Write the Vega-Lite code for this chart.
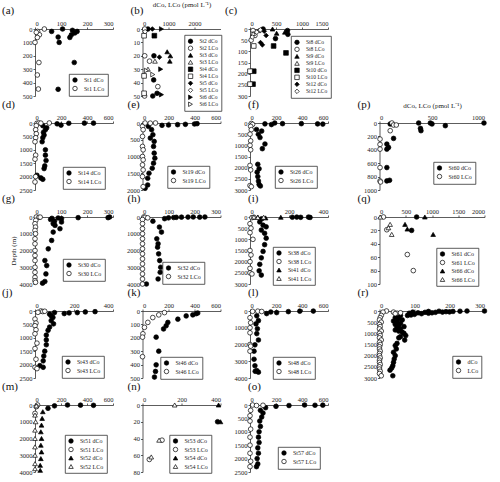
{
"$schema":"https://vega.github.io/schema/vega-lite/v6.json",
"padding":{"left":2,"top":0,"right":0,"bottom":0},
"columns":4,
"spacing":{"row":27,"column":29.5},
"bounds":"flush",
"resolve":{"scale":{"shape":"independent","fill":"independent","stroke":"independent","x":"independent","y":"independent"},"legend":{"shape":"independent","fill":"independent","stroke":"independent"}},
"config":{"view":{"stroke":null},"font":"Liberation Serif",
"axis":{"grid":false,"format":"d","domainColor":"#333","tickColor":"#333","labelFontSize":6.5,"labelColor":"#222","tickSize":2,"labelPadding":1,"titleFontWeight":"normal","titleFontSize":7,"titleColor":"#222","domainWidth":0.8,"tickWidth":0.8,"labelFont":"Liberation Serif","titleFont":"Liberation Serif"},
"legend":{"orient":"none","strokeColor":"#333","strokeWidth":0.8,"padding":3,"labelFontSize":6,"labelFont":"Liberation Serif","labelColor":"#222","symbolSize":20,"rowPadding":0.5,"symbolStrokeWidth":0.7,"labelOffset":6,"fillColor":"white"},
"title":{"fontSize":11,"fontWeight":"normal","anchor":"start","font":"Liberation Serif","color":"#111","frame":"group"}},
"data":{"values":[
{"p":"a","s":"St1 dCo","x":64,"y":18},{"p":"a","s":"St1 dCo","x":106,"y":0},{"p":"a","s":"St1 dCo","x":144,"y":10},{"p":"a","s":"St1 dCo","x":153,"y":30},{"p":"a","s":"St1 dCo","x":140,"y":43},{"p":"a","s":"St1 dCo","x":134,"y":63},{"p":"a","s":"St1 dCo","x":89,"y":60},{"p":"a","s":"St1 dCo","x":93,"y":100},{"p":"a","s":"St1 dCo","x":162,"y":18},{"p":"a","s":"St1 dCo","x":151,"y":250},{"p":"a","s":"St1 dCo","x":89,"y":450},
{"p":"a","s":"St1 LCo","x":36,"y":0},{"p":"a","s":"St1 LCo","x":10,"y":18},{"p":"a","s":"St1 LCo","x":17,"y":43},{"p":"a","s":"St1 LCo","x":9,"y":63},{"p":"a","s":"St1 LCo","x":0,"y":100},{"p":"a","s":"St1 LCo","x":15,"y":250},{"p":"a","s":"St1 LCo","x":9,"y":343},{"p":"a","s":"St1 LCo","x":13,"y":448},{"p":"a","s":"St1 LCo","x":5,"y":25},
{"p":"b","s":"St2 dCo","x":210,"y":0},{"p":"b","s":"St2 dCo","x":440,"y":20},{"p":"b","s":"St2 dCo","x":430,"y":38},{"p":"b","s":"St2 dCo","x":395,"y":50},{"p":"b","s":"St2 dCo","x":560,"y":48},
{"p":"b","s":"St2 LCo","x":85,"y":0},{"p":"b","s":"St2 LCo","x":85,"y":20},{"p":"b","s":"St2 LCo","x":270,"y":24},{"p":"b","s":"St2 LCo","x":590,"y":43},{"p":"b","s":"St2 LCo","x":80,"y":50},
{"p":"b","s":"St3 dCo","x":950,"y":17},{"p":"b","s":"St3 dCo","x":1070,"y":20},{"p":"b","s":"St3 dCo","x":1050,"y":24},
{"p":"b","s":"St3 LCo","x":480,"y":24},{"p":"b","s":"St3 LCo","x":210,"y":30},
{"p":"b","s":"St4 dCo","x":456,"y":5},
{"p":"b","s":"St4 LCo","x":60,"y":5},{"p":"b","s":"St4 LCo","x":60,"y":35},{"p":"b","s":"St4 LCo","x":60,"y":48},
{"p":"b","s":"St5 dCo","x":380,"y":0},{"p":"b","s":"St5 dCo","x":650,"y":21},
{"p":"b","s":"St5 LCo","x":100,"y":2},
{"p":"b","s":"St6 dCo","x":730,"y":0},{"p":"b","s":"St6 dCo","x":700,"y":30},{"p":"b","s":"St6 dCo","x":730,"y":49},
{"p":"b","s":"St6 LCo","x":395,"y":34},{"p":"b","s":"St6 LCo","x":150,"y":31},
{"p":"c","s":"St8 dCo","x":252,"y":0},{"p":"c","s":"St8 dCo","x":721,"y":7},{"p":"c","s":"St8 dCo","x":728,"y":24},{"p":"c","s":"St8 dCo","x":490,"y":43},
{"p":"c","s":"St8 LCo","x":58,"y":7},{"p":"c","s":"St8 LCo","x":94,"y":29},{"p":"c","s":"St8 LCo","x":22,"y":50},
{"p":"c","s":"St9 dCo","x":512,"y":19},{"p":"c","s":"St9 dCo","x":670,"y":14},{"p":"c","s":"St9 dCo","x":433,"y":0},
{"p":"c","s":"St9 LCo","x":166,"y":7},{"p":"c","s":"St9 LCo","x":60,"y":20},
{"p":"c","s":"St10 dCo","x":454,"y":76},{"p":"c","s":"St10 dCo","x":692,"y":107},{"p":"c","s":"St10 dCo","x":72,"y":189},{"p":"c","s":"St10 dCo","x":58,"y":247},
{"p":"c","s":"St10 LCo","x":72,"y":76},{"p":"c","s":"St10 LCo","x":0,"y":189},{"p":"c","s":"St10 LCo","x":0,"y":247},
{"p":"c","s":"St12 dCo","x":202,"y":61},{"p":"c","s":"St12 dCo","x":238,"y":71},{"p":"c","s":"St12 dCo","x":310,"y":29},{"p":"c","s":"St12 dCo","x":274,"y":10},
{"p":"c","s":"St12 LCo","x":130,"y":14},{"p":"c","s":"St12 LCo","x":43,"y":36},{"p":"c","s":"St12 LCo","x":200,"y":4},
{"p":"d","s":"St14 dCo","x":60,"y":100},{"p":"d","s":"St14 dCo","x":90,"y":180},{"p":"d","s":"St14 dCo","x":80,"y":250},{"p":"d","s":"St14 dCo","x":65,"y":350},{"p":"d","s":"St14 dCo","x":70,"y":450},{"p":"d","s":"St14 dCo","x":60,"y":550},{"p":"d","s":"St14 dCo","x":55,"y":700},{"p":"d","s":"St14 dCo","x":80,"y":1000},{"p":"d","s":"St14 dCo","x":80,"y":1200},{"p":"d","s":"St14 dCo","x":85,"y":1400},{"p":"d","s":"St14 dCo","x":75,"y":1600},{"p":"d","s":"St14 dCo","x":70,"y":1700},{"p":"d","s":"St14 dCo","x":15,"y":1950},{"p":"d","s":"St14 dCo","x":45,"y":2050},{"p":"d","s":"St14 dCo","x":60,"y":2100},{"p":"d","s":"St14 dCo","x":170,"y":30},{"p":"d","s":"St14 dCo","x":200,"y":80},{"p":"d","s":"St14 dCo","x":260,"y":10},{"p":"d","s":"St14 dCo","x":380,"y":5},{"p":"d","s":"St14 dCo","x":450,"y":5},
{"p":"d","s":"St14 LCo","x":15,"y":10},{"p":"d","s":"St14 LCo","x":30,"y":0},{"p":"d","s":"St14 LCo","x":45,"y":5},{"p":"d","s":"St14 LCo","x":110,"y":0},{"p":"d","s":"St14 LCo","x":10,"y":100},{"p":"d","s":"St14 LCo","x":5,"y":250},{"p":"d","s":"St14 LCo","x":10,"y":400},{"p":"d","s":"St14 LCo","x":5,"y":550},{"p":"d","s":"St14 LCo","x":0,"y":700},{"p":"d","s":"St14 LCo","x":5,"y":1200},{"p":"d","s":"St14 LCo","x":0,"y":1350},{"p":"d","s":"St14 LCo","x":5,"y":2000},{"p":"d","s":"St14 LCo","x":0,"y":2200},
{"p":"e","s":"St19 dCo","x":150,"y":70},{"p":"e","s":"St19 dCo","x":200,"y":60},{"p":"e","s":"St19 dCo","x":270,"y":50},{"p":"e","s":"St19 dCo","x":330,"y":40},{"p":"e","s":"St19 dCo","x":400,"y":30},{"p":"e","s":"St19 dCo","x":420,"y":20},{"p":"e","s":"St19 dCo","x":45,"y":100},{"p":"e","s":"St19 dCo","x":70,"y":200},{"p":"e","s":"St19 dCo","x":80,"y":350},{"p":"e","s":"St19 dCo","x":60,"y":450},{"p":"e","s":"St19 dCo","x":90,"y":550},{"p":"e","s":"St19 dCo","x":85,"y":700},{"p":"e","s":"St19 dCo","x":90,"y":900},{"p":"e","s":"St19 dCo","x":95,"y":1050},{"p":"e","s":"St19 dCo","x":85,"y":1200},{"p":"e","s":"St19 dCo","x":75,"y":1350},{"p":"e","s":"St19 dCo","x":50,"y":1500},{"p":"e","s":"St19 dCo","x":40,"y":1650},{"p":"e","s":"St19 dCo","x":40,"y":1850},{"p":"e","s":"St19 dCo","x":20,"y":1950},
{"p":"e","s":"St19 LCo","x":0,"y":100},{"p":"e","s":"St19 LCo","x":5,"y":200},{"p":"e","s":"St19 LCo","x":0,"y":400},{"p":"e","s":"St19 LCo","x":0,"y":700},{"p":"e","s":"St19 LCo","x":5,"y":800},{"p":"e","s":"St19 LCo","x":0,"y":1000},{"p":"e","s":"St19 LCo","x":5,"y":1100},{"p":"e","s":"St19 LCo","x":0,"y":1250},{"p":"e","s":"St19 LCo","x":5,"y":1400},{"p":"e","s":"St19 LCo","x":0,"y":1600},{"p":"e","s":"St19 LCo","x":5,"y":1900},{"p":"e","s":"St19 LCo","x":20,"y":0},{"p":"e","s":"St19 LCo","x":100,"y":0},{"p":"e","s":"St19 LCo","x":60,"y":5},
{"p":"f","s":"St26 dCo","x":115,"y":40},{"p":"f","s":"St26 dCo","x":190,"y":0},{"p":"f","s":"St26 dCo","x":395,"y":30},{"p":"f","s":"St26 dCo","x":520,"y":40},{"p":"f","s":"St26 dCo","x":560,"y":50},{"p":"f","s":"St26 dCo","x":165,"y":70},{"p":"f","s":"St26 dCo","x":250,"y":30},{"p":"f","s":"St26 dCo","x":50,"y":290},{"p":"f","s":"St26 dCo","x":90,"y":360},{"p":"f","s":"St26 dCo","x":64,"y":505},{"p":"f","s":"St26 dCo","x":77,"y":650},{"p":"f","s":"St26 dCo","x":115,"y":940},{"p":"f","s":"St26 dCo","x":95,"y":1150},{"p":"f","s":"St26 dCo","x":60,"y":1850},{"p":"f","s":"St26 dCo","x":70,"y":2050},{"p":"f","s":"St26 dCo","x":55,"y":2200},{"p":"f","s":"St26 dCo","x":60,"y":2400},{"p":"f","s":"St26 dCo","x":65,"y":2600},{"p":"f","s":"St26 dCo","x":70,"y":2750},{"p":"f","s":"St26 dCo","x":80,"y":2820},
{"p":"f","s":"St26 LCo","x":10,"y":20},{"p":"f","s":"St26 LCo","x":20,"y":60},{"p":"f","s":"St26 LCo","x":5,"y":150},{"p":"f","s":"St26 LCo","x":10,"y":300},{"p":"f","s":"St26 LCo","x":0,"y":500},{"p":"f","s":"St26 LCo","x":5,"y":800},{"p":"f","s":"St26 LCo","x":0,"y":1000},{"p":"f","s":"St26 LCo","x":5,"y":1200},{"p":"f","s":"St26 LCo","x":0,"y":1900},{"p":"f","s":"St26 LCo","x":5,"y":2100},{"p":"f","s":"St26 LCo","x":0,"y":2800},{"p":"f","s":"St26 LCo","x":10,"y":2850},
{"p":"g","s":"St30 dCo","x":287,"y":0},{"p":"g","s":"St30 dCo","x":281,"y":40},{"p":"g","s":"St30 dCo","x":166,"y":40},{"p":"g","s":"St30 dCo","x":102,"y":100},{"p":"g","s":"St30 dCo","x":89,"y":60},{"p":"g","s":"St30 dCo","x":60,"y":150},{"p":"g","s":"St30 dCo","x":65,"y":80},{"p":"g","s":"St30 dCo","x":75,"y":250},{"p":"g","s":"St30 dCo","x":70,"y":400},{"p":"g","s":"St30 dCo","x":77,"y":500},{"p":"g","s":"St30 dCo","x":102,"y":300},{"p":"g","s":"St30 dCo","x":96,"y":700},{"p":"g","s":"St30 dCo","x":70,"y":900},{"p":"g","s":"St30 dCo","x":64,"y":1400},{"p":"g","s":"St30 dCo","x":51,"y":1900},{"p":"g","s":"St30 dCo","x":38,"y":2600},{"p":"g","s":"St30 dCo","x":45,"y":2900},{"p":"g","s":"St30 dCo","x":42,"y":3400},{"p":"g","s":"St30 dCo","x":38,"y":3850},{"p":"g","s":"St30 dCo","x":29,"y":3950},
{"p":"g","s":"St30 LCo","x":5,"y":0},{"p":"g","s":"St30 LCo","x":15,"y":20},{"p":"g","s":"St30 LCo","x":20,"y":10},{"p":"g","s":"St30 LCo","x":3,"y":200},{"p":"g","s":"St30 LCo","x":0,"y":400},{"p":"g","s":"St30 LCo","x":2,"y":600},{"p":"g","s":"St30 LCo","x":0,"y":800},{"p":"g","s":"St30 LCo","x":2,"y":1000},{"p":"g","s":"St30 LCo","x":0,"y":1300},{"p":"g","s":"St30 LCo","x":0,"y":1600},{"p":"g","s":"St30 LCo","x":0,"y":2000},{"p":"g","s":"St30 LCo","x":0,"y":2300},{"p":"g","s":"St30 LCo","x":0,"y":2600},{"p":"g","s":"St30 LCo","x":0,"y":3000},{"p":"g","s":"St30 LCo","x":0,"y":3300},{"p":"g","s":"St30 LCo","x":0,"y":3600},{"p":"g","s":"St30 LCo","x":0,"y":3800},{"p":"g","s":"St30 LCo","x":2,"y":3900},
{"p":"h","s":"St32 dCo","x":85,"y":100},{"p":"h","s":"St32 dCo","x":65,"y":600},{"p":"h","s":"St32 dCo","x":73,"y":900},{"p":"h","s":"St32 dCo","x":55,"y":1300},{"p":"h","s":"St32 dCo","x":60,"y":1600},{"p":"h","s":"St32 dCo","x":58,"y":1800},{"p":"h","s":"St32 dCo","x":62,"y":2200},{"p":"h","s":"St32 dCo","x":66,"y":2600},{"p":"h","s":"St32 dCo","x":70,"y":3000},{"p":"h","s":"St32 dCo","x":68,"y":3300},{"p":"h","s":"St32 dCo","x":60,"y":3700},{"p":"h","s":"St32 dCo","x":15,"y":4000},{"p":"h","s":"St32 dCo","x":40,"y":250},{"p":"h","s":"St32 dCo","x":100,"y":50},{"p":"h","s":"St32 dCo","x":130,"y":20},{"p":"h","s":"St32 dCo","x":150,"y":10},{"p":"h","s":"St32 dCo","x":175,"y":5},{"p":"h","s":"St32 dCo","x":195,"y":0},{"p":"h","s":"St32 dCo","x":220,"y":10},{"p":"h","s":"St32 dCo","x":240,"y":0},{"p":"h","s":"St32 dCo","x":120,"y":30},
{"p":"h","s":"St32 LCo","x":5,"y":0},{"p":"h","s":"St32 LCo","x":10,"y":20},{"p":"h","s":"St32 LCo","x":20,"y":50},{"p":"h","s":"St32 LCo","x":0,"y":150},{"p":"h","s":"St32 LCo","x":0,"y":400},{"p":"h","s":"St32 LCo","x":0,"y":700},{"p":"h","s":"St32 LCo","x":0,"y":1000},{"p":"h","s":"St32 LCo","x":0,"y":1300},{"p":"h","s":"St32 LCo","x":0,"y":1600},{"p":"h","s":"St32 LCo","x":0,"y":1900},{"p":"h","s":"St32 LCo","x":0,"y":2200},{"p":"h","s":"St32 LCo","x":0,"y":2500},{"p":"h","s":"St32 LCo","x":0,"y":2800},{"p":"h","s":"St32 LCo","x":0,"y":3100},{"p":"h","s":"St32 LCo","x":0,"y":3400},{"p":"h","s":"St32 LCo","x":0,"y":3700},{"p":"h","s":"St32 LCo","x":0,"y":4000},
{"p":"i","s":"St38 dCo","x":217,"y":10},{"p":"i","s":"St38 dCo","x":240,"y":5},{"p":"i","s":"St38 dCo","x":260,"y":15},{"p":"i","s":"St38 dCo","x":300,"y":5},{"p":"i","s":"St38 dCo","x":308,"y":20},{"p":"i","s":"St38 dCo","x":60,"y":80},{"p":"i","s":"St38 dCo","x":50,"y":220},{"p":"i","s":"St38 dCo","x":67,"y":366},{"p":"i","s":"St38 dCo","x":83,"y":440},{"p":"i","s":"St38 dCo","x":58,"y":585},{"p":"i","s":"St38 dCo","x":75,"y":730},{"p":"i","s":"St38 dCo","x":83,"y":950},{"p":"i","s":"St38 dCo","x":75,"y":1240},{"p":"i","s":"St38 dCo","x":67,"y":1540},{"p":"i","s":"St38 dCo","x":58,"y":1830},{"p":"i","s":"St38 dCo","x":50,"y":2120},{"p":"i","s":"St38 dCo","x":47,"y":2410},{"p":"i","s":"St38 dCo","x":58,"y":2600},
{"p":"i","s":"St38 LCo","x":10,"y":30},{"p":"i","s":"St38 LCo","x":20,"y":10},{"p":"i","s":"St38 LCo","x":0,"y":300},{"p":"i","s":"St38 LCo","x":5,"y":500},{"p":"i","s":"St38 LCo","x":0,"y":700},{"p":"i","s":"St38 LCo","x":15,"y":1000},{"p":"i","s":"St38 LCo","x":0,"y":1500},{"p":"i","s":"St38 LCo","x":5,"y":1700},{"p":"i","s":"St38 LCo","x":0,"y":2000},{"p":"i","s":"St38 LCo","x":0,"y":2300},{"p":"i","s":"St38 LCo","x":0,"y":2500},{"p":"i","s":"St38 LCo","x":10,"y":2550},
{"p":"i","s":"St41 dCo","x":158,"y":10},{"p":"i","s":"St41 dCo","x":40,"y":0},{"p":"i","s":"St41 dCo","x":80,"y":40},
{"p":"i","s":"St41 LCo","x":20,"y":0},{"p":"i","s":"St41 LCo","x":40,"y":20},{"p":"i","s":"St41 LCo","x":70,"y":10},
{"p":"j","s":"St43 dCo","x":150,"y":96},{"p":"j","s":"St43 dCo","x":175,"y":72},{"p":"j","s":"St43 dCo","x":217,"y":60},{"p":"j","s":"St43 dCo","x":258,"y":36},{"p":"j","s":"St43 dCo","x":308,"y":24},{"p":"j","s":"St43 dCo","x":75,"y":120},{"p":"j","s":"St43 dCo","x":83,"y":180},{"p":"j","s":"St43 dCo","x":92,"y":240},{"p":"j","s":"St43 dCo","x":83,"y":360},{"p":"j","s":"St43 dCo","x":95,"y":480},{"p":"j","s":"St43 dCo","x":75,"y":600},{"p":"j","s":"St43 dCo","x":67,"y":720},{"p":"j","s":"St43 dCo","x":58,"y":900},{"p":"j","s":"St43 dCo","x":58,"y":1080},{"p":"j","s":"St43 dCo","x":58,"y":1260},{"p":"j","s":"St43 dCo","x":50,"y":1500},{"p":"j","s":"St43 dCo","x":45,"y":1680},{"p":"j","s":"St43 dCo","x":42,"y":1860},{"p":"j","s":"St43 dCo","x":25,"y":2040},{"p":"j","s":"St43 dCo","x":42,"y":2100},{"p":"j","s":"St43 dCo","x":100,"y":60},
{"p":"j","s":"St43 LCo","x":30,"y":0},{"p":"j","s":"St43 LCo","x":40,"y":20},{"p":"j","s":"St43 LCo","x":50,"y":10},{"p":"j","s":"St43 LCo","x":15,"y":50},{"p":"j","s":"St43 LCo","x":0,"y":300},{"p":"j","s":"St43 LCo","x":5,"y":450},{"p":"j","s":"St43 LCo","x":0,"y":550},{"p":"j","s":"St43 LCo","x":5,"y":700},{"p":"j","s":"St43 LCo","x":0,"y":850},{"p":"j","s":"St43 LCo","x":10,"y":1200},{"p":"j","s":"St43 LCo","x":0,"y":1400},{"p":"j","s":"St43 LCo","x":5,"y":1800},{"p":"j","s":"St43 LCo","x":0,"y":2100},{"p":"j","s":"St43 LCo","x":10,"y":2150},
{"p":"k","s":"St46 dCo","x":272,"y":61},{"p":"k","s":"St46 dCo","x":336,"y":37},{"p":"k","s":"St46 dCo","x":387,"y":29},{"p":"k","s":"St46 dCo","x":413,"y":20},{"p":"k","s":"St46 dCo","x":425,"y":15},{"p":"k","s":"St46 dCo","x":195,"y":85},{"p":"k","s":"St46 dCo","x":182,"y":110},{"p":"k","s":"St46 dCo","x":162,"y":134},{"p":"k","s":"St46 dCo","x":105,"y":195},{"p":"k","s":"St46 dCo","x":125,"y":300},{"p":"k","s":"St46 dCo","x":105,"y":402},{"p":"k","s":"St46 dCo","x":100,"y":451},{"p":"k","s":"St46 dCo","x":92,"y":493},
{"p":"k","s":"St46 LCo","x":169,"y":12},{"p":"k","s":"St46 LCo","x":125,"y":29},{"p":"k","s":"St46 LCo","x":79,"y":49},{"p":"k","s":"St46 LCo","x":41,"y":85},{"p":"k","s":"St46 LCo","x":15,"y":122},{"p":"k","s":"St46 LCo","x":3,"y":170},{"p":"k","s":"St46 LCo","x":0,"y":195},{"p":"k","s":"St46 LCo","x":0,"y":341},
{"p":"l","s":"St48 dCo","x":128,"y":154},{"p":"l","s":"St48 dCo","x":205,"y":96},{"p":"l","s":"St48 dCo","x":295,"y":38},{"p":"l","s":"St48 dCo","x":383,"y":10},{"p":"l","s":"St48 dCo","x":487,"y":5},{"p":"l","s":"St48 dCo","x":160,"y":60},{"p":"l","s":"St48 dCo","x":52,"y":290},{"p":"l","s":"St48 dCo","x":65,"y":577},{"p":"l","s":"St48 dCo","x":46,"y":770},{"p":"l","s":"St48 dCo","x":57,"y":1060},{"p":"l","s":"St48 dCo","x":52,"y":1350},{"p":"l","s":"St48 dCo","x":65,"y":1730},{"p":"l","s":"St48 dCo","x":38,"y":2020},{"p":"l","s":"St48 dCo","x":31,"y":2400},{"p":"l","s":"St48 dCo","x":31,"y":2880},{"p":"l","s":"St48 dCo","x":38,"y":3270},{"p":"l","s":"St48 dCo","x":52,"y":3560},{"p":"l","s":"St48 dCo","x":65,"y":3650},{"p":"l","s":"St48 dCo","x":40,"y":3600},
{"p":"l","s":"St48 LCo","x":20,"y":20},{"p":"l","s":"St48 LCo","x":60,"y":10},{"p":"l","s":"St48 LCo","x":90,"y":30},{"p":"l","s":"St48 LCo","x":0,"y":400},{"p":"l","s":"St48 LCo","x":5,"y":700},{"p":"l","s":"St48 LCo","x":0,"y":1000},{"p":"l","s":"St48 LCo","x":0,"y":1300},{"p":"l","s":"St48 LCo","x":0,"y":2000},{"p":"l","s":"St48 LCo","x":0,"y":2400},{"p":"l","s":"St48 LCo","x":5,"y":2100},
{"p":"m","s":"St51 dCo","x":250,"y":0},{"p":"m","s":"St51 dCo","x":350,"y":10},{"p":"m","s":"St51 dCo","x":450,"y":20},{"p":"m","s":"St51 dCo","x":150,"y":50},{"p":"m","s":"St51 dCo","x":100,"y":200},
{"p":"m","s":"St51 LCo","x":20,"y":0},{"p":"m","s":"St51 LCo","x":10,"y":100},{"p":"m","s":"St51 LCo","x":0,"y":500},
{"p":"m","s":"St52 dCo","x":60,"y":400},{"p":"m","s":"St52 dCo","x":55,"y":800},{"p":"m","s":"St52 dCo","x":50,"y":1200},{"p":"m","s":"St52 dCo","x":45,"y":1600},{"p":"m","s":"St52 dCo","x":50,"y":2000},{"p":"m","s":"St52 dCo","x":45,"y":2400},{"p":"m","s":"St52 dCo","x":50,"y":2800},{"p":"m","s":"St52 dCo","x":45,"y":3200},{"p":"m","s":"St52 dCo","x":40,"y":3600},{"p":"m","s":"St52 dCo","x":40,"y":3900},
{"p":"m","s":"St52 LCo","x":10,"y":50},{"p":"m","s":"St52 LCo","x":0,"y":600},{"p":"m","s":"St52 LCo","x":5,"y":1000},{"p":"m","s":"St52 LCo","x":0,"y":1500},{"p":"m","s":"St52 LCo","x":0,"y":2000},{"p":"m","s":"St52 LCo","x":0,"y":2500},{"p":"m","s":"St52 LCo","x":0,"y":3000},{"p":"m","s":"St52 LCo","x":0,"y":3500},{"p":"m","s":"St52 LCo","x":0,"y":3800},
{"p":"n","s":"St53 dCo","x":385,"y":20},
{"p":"n","s":"St53 LCo","x":100,"y":42},{"p":"n","s":"St53 LCo","x":35,"y":65},
{"p":"n","s":"St54 dCo","x":390,"y":0},{"p":"n","s":"St54 dCo","x":400,"y":20},
{"p":"n","s":"St54 LCo","x":165,"y":0},{"p":"n","s":"St54 LCo","x":85,"y":42},{"p":"n","s":"St54 LCo","x":45,"y":62},
{"p":"o","s":"St57 dCo","x":420,"y":0},{"p":"o","s":"St57 dCo","x":500,"y":10},{"p":"o","s":"St57 dCo","x":560,"y":5},{"p":"o","s":"St57 dCo","x":300,"y":20},{"p":"o","s":"St57 dCo","x":200,"y":50},{"p":"o","s":"St57 dCo","x":120,"y":100},{"p":"o","s":"St57 dCo","x":80,"y":200},{"p":"o","s":"St57 dCo","x":100,"y":300},{"p":"o","s":"St57 dCo","x":90,"y":450},{"p":"o","s":"St57 dCo","x":75,"y":600},{"p":"o","s":"St57 dCo","x":80,"y":800},{"p":"o","s":"St57 dCo","x":70,"y":1000},{"p":"o","s":"St57 dCo","x":65,"y":1200},{"p":"o","s":"St57 dCo","x":70,"y":1400},{"p":"o","s":"St57 dCo","x":60,"y":1600},{"p":"o","s":"St57 dCo","x":65,"y":1800},{"p":"o","s":"St57 dCo","x":55,"y":2000},{"p":"o","s":"St57 dCo","x":60,"y":2200},{"p":"o","s":"St57 dCo","x":50,"y":2300},
{"p":"o","s":"St57 LCo","x":20,"y":0},{"p":"o","s":"St57 LCo","x":50,"y":20},{"p":"o","s":"St57 LCo","x":100,"y":10},{"p":"o","s":"St57 LCo","x":5,"y":200},{"p":"o","s":"St57 LCo","x":0,"y":400},{"p":"o","s":"St57 LCo","x":0,"y":600},{"p":"o","s":"St57 LCo","x":5,"y":900},{"p":"o","s":"St57 LCo","x":0,"y":1200},{"p":"o","s":"St57 LCo","x":0,"y":1500},{"p":"o","s":"St57 LCo","x":0,"y":1800},{"p":"o","s":"St57 LCo","x":5,"y":2100},{"p":"o","s":"St57 LCo","x":0,"y":2300},
{"p":"p","s":"St60 dCo","x":102,"y":15},{"p":"p","s":"St60 dCo","x":134,"y":230},{"p":"p","s":"St60 dCo","x":70,"y":315},{"p":"p","s":"St60 dCo","x":86,"y":365},{"p":"p","s":"St60 dCo","x":70,"y":390},{"p":"p","s":"St60 dCo","x":70,"y":665},{"p":"p","s":"St60 dCo","x":70,"y":865},{"p":"p","s":"St60 dCo","x":96,"y":855},{"p":"p","s":"St60 dCo","x":373,"y":0},{"p":"p","s":"St60 dCo","x":390,"y":80},{"p":"p","s":"St60 dCo","x":395,"y":115},{"p":"p","s":"St60 dCo","x":484,"y":0},{"p":"p","s":"St60 dCo","x":500,"y":15},{"p":"p","s":"St60 dCo","x":627,"y":40},{"p":"p","s":"St60 dCo","x":995,"y":0},
{"p":"p","s":"St60 LCo","x":118,"y":0},{"p":"p","s":"St60 LCo","x":134,"y":30},{"p":"p","s":"St60 LCo","x":160,"y":30},{"p":"p","s":"St60 LCo","x":102,"y":115},{"p":"p","s":"St60 LCo","x":5,"y":240},{"p":"p","s":"St60 LCo","x":5,"y":320},{"p":"p","s":"St60 LCo","x":5,"y":390},{"p":"p","s":"St60 LCo","x":5,"y":665},{"p":"p","s":"St60 LCo","x":5,"y":865},{"p":"p","s":"St60 LCo","x":10,"y":880},
{"p":"q","s":"St61 dCo","x":707,"y":0},{"p":"q","s":"St61 dCo","x":612,"y":20},
{"p":"q","s":"St61 LCo","x":76,"y":0},{"p":"q","s":"St61 LCo","x":139,"y":19},{"p":"q","s":"St61 LCo","x":530,"y":56},{"p":"q","s":"St61 LCo","x":644,"y":80},
{"p":"q","s":"St66 dCo","x":864,"y":0},{"p":"q","s":"St66 dCo","x":486,"y":11},{"p":"q","s":"St66 dCo","x":530,"y":18},{"p":"q","s":"St66 dCo","x":1022,"y":26},
{"p":"q","s":"St66 LCo","x":13,"y":0},{"p":"q","s":"St66 LCo","x":202,"y":11},{"p":"q","s":"St66 LCo","x":170,"y":16},{"p":"q","s":"St66 LCo","x":233,"y":26},
{"p":"r","s":"dCo","x":300,"y":0},{"p":"r","s":"dCo","x":250,"y":0},{"p":"r","s":"dCo","x":210,"y":20},{"p":"r","s":"dCo","x":200,"y":40},{"p":"r","s":"dCo","x":180,"y":50},{"p":"r","s":"dCo","x":160,"y":60},{"p":"r","s":"dCo","x":150,"y":80},{"p":"r","s":"dCo","x":140,"y":100},{"p":"r","s":"dCo","x":130,"y":60},{"p":"r","s":"dCo","x":120,"y":120},{"p":"r","s":"dCo","x":110,"y":80},{"p":"r","s":"dCo","x":100,"y":150},{"p":"r","s":"dCo","x":95,"y":50},{"p":"r","s":"dCo","x":90,"y":180},{"p":"r","s":"dCo","x":85,"y":100},{"p":"r","s":"dCo","x":80,"y":200},{"p":"r","s":"dCo","x":190,"y":30},{"p":"r","s":"dCo","x":170,"y":10},{"p":"r","s":"dCo","x":140,"y":20},{"p":"r","s":"dCo","x":230,"y":10},
{"p":"r","s":"dCo","x":60,"y":200},{"p":"r","s":"dCo","x":50,"y":250},{"p":"r","s":"dCo","x":45,"y":300},{"p":"r","s":"dCo","x":55,"y":350},{"p":"r","s":"dCo","x":65,"y":400},{"p":"r","s":"dCo","x":40,"y":450},{"p":"r","s":"dCo","x":50,"y":500},{"p":"r","s":"dCo","x":60,"y":550},{"p":"r","s":"dCo","x":45,"y":600},{"p":"r","s":"dCo","x":55,"y":650},{"p":"r","s":"dCo","x":70,"y":700},{"p":"r","s":"dCo","x":50,"y":750},{"p":"r","s":"dCo","x":60,"y":800},{"p":"r","s":"dCo","x":45,"y":850},{"p":"r","s":"dCo","x":55,"y":900},{"p":"r","s":"dCo","x":65,"y":950},{"p":"r","s":"dCo","x":70,"y":1000},{"p":"r","s":"dCo","x":75,"y":1100},{"p":"r","s":"dCo","x":60,"y":1150},{"p":"r","s":"dCo","x":55,"y":1200},{"p":"r","s":"dCo","x":72,"y":1300},{"p":"r","s":"dCo","x":50,"y":1450},{"p":"r","s":"dCo","x":45,"y":1550},{"p":"r","s":"dCo","x":48,"y":1700},{"p":"r","s":"dCo","x":40,"y":1850},{"p":"r","s":"dCo","x":45,"y":2000},{"p":"r","s":"dCo","x":42,"y":2150},{"p":"r","s":"dCo","x":40,"y":2300},{"p":"r","s":"dCo","x":38,"y":2450},{"p":"r","s":"dCo","x":35,"y":2550},{"p":"r","s":"dCo","x":30,"y":2650},{"p":"r","s":"dCo","x":38,"y":2900},
{"p":"r","s":"LCo","x":20,"y":0},{"p":"r","s":"LCo","x":40,"y":50},{"p":"r","s":"LCo","x":50,"y":100},{"p":"r","s":"LCo","x":60,"y":80},{"p":"r","s":"LCo","x":45,"y":120},{"p":"r","s":"LCo","x":10,"y":50},{"p":"r","s":"LCo","x":5,"y":200},{"p":"r","s":"LCo","x":2,"y":300},{"p":"r","s":"LCo","x":0,"y":400},{"p":"r","s":"LCo","x":5,"y":500},{"p":"r","s":"LCo","x":0,"y":600},{"p":"r","s":"LCo","x":2,"y":700},{"p":"r","s":"LCo","x":0,"y":800},{"p":"r","s":"LCo","x":5,"y":900},{"p":"r","s":"LCo","x":0,"y":1000},{"p":"r","s":"LCo","x":2,"y":1100},{"p":"r","s":"LCo","x":0,"y":1200},{"p":"r","s":"LCo","x":5,"y":1300},{"p":"r","s":"LCo","x":0,"y":1400},{"p":"r","s":"LCo","x":2,"y":1500},{"p":"r","s":"LCo","x":0,"y":1600},{"p":"r","s":"LCo","x":0,"y":1700},{"p":"r","s":"LCo","x":2,"y":1800},{"p":"r","s":"LCo","x":0,"y":1900},{"p":"r","s":"LCo","x":0,"y":2000},{"p":"r","s":"LCo","x":2,"y":2100},{"p":"r","s":"LCo","x":0,"y":2200},{"p":"r","s":"LCo","x":0,"y":2300},{"p":"r","s":"LCo","x":2,"y":2400},{"p":"r","s":"LCo","x":0,"y":2500},{"p":"r","s":"LCo","x":0,"y":2600},{"p":"r","s":"LCo","x":2,"y":2700},{"p":"r","s":"LCo","x":0,"y":2800},{"p":"r","s":"LCo","x":5,"y":2900}
]},
"concat":[
{"title":{"text":"(a)","dx":-33},"width":78,"height":67,"transform":[{"filter":"datum.p=='a'"}],"mark":{"type":"point","filled":true,"strokeWidth":0.7,"size":22,"opacity":1},
"encoding":{"x":{"field":"x","type":"quantitative","title":null,"scale":{"domain":[0,300],"nice":false},"axis":{"orient":"top","values":[0,100,200,300]}},
"y":{"field":"y","type":"quantitative","title":null,"scale":{"domain":[0,500],"nice":false,"reverse":true},"axis":{"values":[0,100,200,300,400,500]}},
"shape":{"field":"s","type":"nominal","scale":{"domain":["St1 dCo","St1 LCo"],"range":["circle","circle"]},"legend":{"title":null,"legendX":34,"legendY":45}},
"fill":{"field":"s","type":"nominal","scale":{"domain":["St1 dCo","St1 LCo"],"range":["black","white"]},"legend":{"title":null,"legendX":34,"legendY":45}},
"stroke":{"field":"s","type":"nominal","scale":{"domain":["St1 dCo","St1 LCo"],"range":["black","black"]},"legend":{"title":null,"legendX":34,"legendY":45}}}},
{"title":{"text":"(b)","dx":-12,"offset":-16},"width":78,"height":67,"transform":[{"filter":"datum.p=='b'"}],"mark":{"type":"point","filled":true,"strokeWidth":0.7,"size":22,"opacity":1},
"encoding":{"x":{"field":"x","type":"quantitative","title":"dCo, LCo (pmol L⁻¹)","scale":{"domain":[0,3000],"nice":false},"axis":{"orient":"top","values":[0,1000,2000],"titlePadding":13}},
"y":{"field":"y","type":"quantitative","title":null,"scale":{"domain":[0,50],"nice":false,"reverse":true},"axis":{"values":[0,10,20,30,40,50]}},
"shape":{"field":"s","type":"nominal","scale":{"domain":["St2 dCo","St2 LCo","St3 dCo","St3 LCo","St4 dCo","St4 LCo","St5 dCo","St5 LCo","St6 dCo","St6 LCo"],"range":["circle","circle","triangle-up","triangle-up","square","square","diamond","diamond","triangle-right","triangle-right"]},"legend":{"title":null,"legendX":42,"legendY":6,"labelFontSize":5.5,"rowPadding":0,"clipHeight":6.5}},
"fill":{"field":"s","type":"nominal","scale":{"domain":["St2 dCo","St2 LCo","St3 dCo","St3 LCo","St4 dCo","St4 LCo","St5 dCo","St5 LCo","St6 dCo","St6 LCo"],"range":["black","white","black","white","black","white","black","white","black","white"]},"legend":{"title":null,"legendX":42,"legendY":6,"labelFontSize":5.5,"rowPadding":0,"clipHeight":6.5}},
"stroke":{"field":"s","type":"nominal","scale":{"domain":["St2 dCo","St2 LCo","St3 dCo","St3 LCo","St4 dCo","St4 LCo","St5 dCo","St5 LCo","St6 dCo","St6 LCo"],"range":["black","black","black","black","black","black","black","black","black","black"]},"legend":{"title":null,"legendX":42,"legendY":6,"labelFontSize":5.5,"rowPadding":0,"clipHeight":6.5}}}},
{"title":{"text":"(c)","dx":-25},"width":100,"height":67,"transform":[{"filter":"datum.p=='c'"}],"mark":{"type":"point","filled":true,"strokeWidth":0.7,"size":22,"opacity":1},
"encoding":{"x":{"field":"x","type":"quantitative","title":null,"scale":{"domain":[0,1500],"nice":false,"range":[0,78]},"axis":{"orient":"top","values":[0,500,1000,1500]}},
"y":{"field":"y","type":"quantitative","title":null,"scale":{"domain":[0,300],"nice":false,"reverse":true},"axis":{"values":[0,50,100,150,200,250,300]}},
"shape":{"field":"s","type":"nominal","scale":{"domain":["St8 dCo","St8 LCo","St9 dCo","St9 LCo","St10 dCo","St10 LCo","St12 dCo","St12 LCo"],"range":["circle","circle","triangle-up","triangle-up","square","square","diamond","diamond"]},"legend":{"title":null,"legendX":41,"legendY":7,"labelFontSize":5.5,"rowPadding":0,"clipHeight":6.7}},
"fill":{"field":"s","type":"nominal","scale":{"domain":["St8 dCo","St8 LCo","St9 dCo","St9 LCo","St10 dCo","St10 LCo","St12 dCo","St12 LCo"],"range":["black","white","black","white","black","white","black","white"]},"legend":{"title":null,"legendX":41,"legendY":7,"labelFontSize":5.5,"rowPadding":0,"clipHeight":6.7}},
"stroke":{"field":"s","type":"nominal","scale":{"domain":["St8 dCo","St8 LCo","St9 dCo","St9 LCo","St10 dCo","St10 LCo","St12 dCo","St12 LCo"],"range":["black","black","black","black","black","black","black","black"]},"legend":{"title":null,"legendX":41,"legendY":7,"labelFontSize":5.5,"rowPadding":0,"clipHeight":6.7}}}},
{"width":105,"height":67,"transform":[{"filter":"false"}],"mark":{"type":"point","opacity":0},"encoding":{}},
{"title":{"text":"(d)","dx":-33},"width":78,"height":67,"transform":[{"filter":"datum.p=='d'"}],"mark":{"type":"point","filled":true,"strokeWidth":0.7,"size":22,"opacity":1},
"encoding":{"x":{"field":"x","type":"quantitative","title":null,"scale":{"domain":[0,600],"nice":false},"axis":{"orient":"top","values":[0,200,400,600]}},
"y":{"field":"y","type":"quantitative","title":null,"scale":{"domain":[0,2500],"nice":false,"reverse":true},"axis":{"values":[0,500,1000,1500,2000,2500]}},
"shape":{"field":"s","type":"nominal","scale":{"domain":["St14 dCo","St14 LCo"],"range":["circle","circle"]},"legend":{"title":null,"legendX":28,"legendY":44}},
"fill":{"field":"s","type":"nominal","scale":{"domain":["St14 dCo","St14 LCo"],"range":["black","white"]},"legend":{"title":null,"legendX":28,"legendY":44}},
"stroke":{"field":"s","type":"nominal","scale":{"domain":["St14 dCo","St14 LCo"],"range":["black","black"]},"legend":{"title":null,"legendX":28,"legendY":44}}}},
{"title":{"text":"(e)","dx":-15},"width":78,"height":67,"transform":[{"filter":"datum.p=='e'"}],"mark":{"type":"point","filled":true,"strokeWidth":0.7,"size":22,"opacity":1},
"encoding":{"x":{"field":"x","type":"quantitative","title":null,"scale":{"domain":[0,600],"nice":false},"axis":{"orient":"top","values":[0,200,400,600]}},
"y":{"field":"y","type":"quantitative","title":null,"scale":{"domain":[0,2000],"nice":false,"reverse":true},"axis":{"values":[0,500,1000,1500,2000]}},
"shape":{"field":"s","type":"nominal","scale":{"domain":["St19 dCo","St19 LCo"],"range":["circle","circle"]},"legend":{"title":null,"legendX":25,"legendY":43}},
"fill":{"field":"s","type":"nominal","scale":{"domain":["St19 dCo","St19 LCo"],"range":["black","white"]},"legend":{"title":null,"legendX":25,"legendY":43}},
"stroke":{"field":"s","type":"nominal","scale":{"domain":["St19 dCo","St19 LCo"],"range":["black","black"]},"legend":{"title":null,"legendX":25,"legendY":43}}}},
{"title":{"text":"(f)","dx":-2,"offset":4},"width":100,"height":67,"transform":[{"filter":"datum.p=='f'"}],"mark":{"type":"point","filled":true,"strokeWidth":0.7,"size":22,"opacity":1},
"encoding":{"x":{"field":"x","type":"quantitative","title":null,"scale":{"domain":[0,600],"nice":false,"range":[0,78]},"axis":{"orient":"top","values":[0,200,400,600]}},
"y":{"field":"y","type":"quantitative","title":null,"scale":{"domain":[0,3000],"nice":false,"reverse":true},"axis":{"values":[0,500,1000,1500,2000,2500,3000]}},
"shape":{"field":"s","type":"nominal","scale":{"domain":["St26 dCo","St26 LCo"],"range":["circle","circle"]},"legend":{"title":null,"legendX":25,"legendY":43}},
"fill":{"field":"s","type":"nominal","scale":{"domain":["St26 dCo","St26 LCo"],"range":["black","white"]},"legend":{"title":null,"legendX":25,"legendY":43}},
"stroke":{"field":"s","type":"nominal","scale":{"domain":["St26 dCo","St26 LCo"],"range":["black","black"]},"legend":{"title":null,"legendX":25,"legendY":43}}}},
{"title":{"text":"(p)","dx":-22,"offset":-9},"width":105,"height":67,"transform":[{"filter":"datum.p=='p'"}],"mark":{"type":"point","filled":true,"strokeWidth":0.7,"size":22,"opacity":1},
"encoding":{"x":{"field":"x","type":"quantitative","title":"dCo, LCo (pmol L⁻¹)","scale":{"domain":[0,1000],"nice":false},"axis":{"orient":"top","values":[0,500,1000],"titlePadding":6}},
"y":{"field":"y","type":"quantitative","title":null,"scale":{"domain":[0,1000],"nice":false,"reverse":true},"axis":{"values":[0,200,400,600,800,1000]}},
"shape":{"field":"s","type":"nominal","scale":{"domain":["St60 dCo","St60 LCo"],"range":["circle","circle"]},"legend":{"title":null,"legendX":54,"legendY":39}},
"fill":{"field":"s","type":"nominal","scale":{"domain":["St60 dCo","St60 LCo"],"range":["black","white"]},"legend":{"title":null,"legendX":54,"legendY":39}},
"stroke":{"field":"s","type":"nominal","scale":{"domain":["St60 dCo","St60 LCo"],"range":["black","black"]},"legend":{"title":null,"legendX":54,"legendY":39}}}},
{"title":{"text":"(g)","dx":-33},"width":78,"height":67,"transform":[{"filter":"datum.p=='g'"}],"mark":{"type":"point","filled":true,"strokeWidth":0.7,"size":22,"opacity":1},
"encoding":{"x":{"field":"x","type":"quantitative","title":null,"scale":{"domain":[0,300],"nice":false},"axis":{"orient":"top","values":[0,100,200,300]}},
"y":{"field":"y","type":"quantitative","title":"Depth (m)","scale":{"domain":[0,4000],"nice":false,"reverse":true},"axis":{"values":[0,1000,2000,3000,4000],"titlePadding":3}},
"shape":{"field":"s","type":"nominal","scale":{"domain":["St30 dCo","St30 LCo"],"range":["circle","circle"]},"legend":{"title":null,"legendX":28,"legendY":42}},
"fill":{"field":"s","type":"nominal","scale":{"domain":["St30 dCo","St30 LCo"],"range":["black","white"]},"legend":{"title":null,"legendX":28,"legendY":42}},
"stroke":{"field":"s","type":"nominal","scale":{"domain":["St30 dCo","St30 LCo"],"range":["black","black"]},"legend":{"title":null,"legendX":28,"legendY":42}}}},
{"title":{"text":"(h)","dx":-15},"width":78,"height":67,"transform":[{"filter":"datum.p=='h'"}],"mark":{"type":"point","filled":true,"strokeWidth":0.7,"size":22,"opacity":1},
"encoding":{"x":{"field":"x","type":"quantitative","title":null,"scale":{"domain":[0,300],"nice":false},"axis":{"orient":"top","values":[0,100,200,300]}},
"y":{"field":"y","type":"quantitative","title":null,"scale":{"domain":[0,4000],"nice":false,"reverse":true},"axis":{"values":[0,1000,2000,3000,4000]}},
"shape":{"field":"s","type":"nominal","scale":{"domain":["St32 dCo","St32 LCo"],"range":["circle","circle"]},"legend":{"title":null,"legendX":20,"legendY":45}},
"fill":{"field":"s","type":"nominal","scale":{"domain":["St32 dCo","St32 LCo"],"range":["black","white"]},"legend":{"title":null,"legendX":20,"legendY":45}},
"stroke":{"field":"s","type":"nominal","scale":{"domain":["St32 dCo","St32 LCo"],"range":["black","black"]},"legend":{"title":null,"legendX":20,"legendY":45}}}},
{"title":{"text":"(i)","dx":-2,"offset":4},"width":100,"height":67,"transform":[{"filter":"datum.p=='i'"}],"mark":{"type":"point","filled":true,"strokeWidth":0.7,"size":22,"opacity":1},
"encoding":{"x":{"field":"x","type":"quantitative","title":null,"scale":{"domain":[0,400],"nice":false,"range":[0,78]},"axis":{"orient":"top","values":[0,200,400]}},
"y":{"field":"y","type":"quantitative","title":null,"scale":{"domain":[0,3000],"nice":false,"reverse":true},"axis":{"values":[0,500,1000,1500,2000,2500,3000]}},
"shape":{"field":"s","type":"nominal","scale":{"domain":["St38 dCo","St38 LCo","St41 dCo","St41 LCo"],"range":["circle","circle","triangle-up","triangle-up"]},"legend":{"title":null,"legendX":23,"legendY":30}},
"fill":{"field":"s","type":"nominal","scale":{"domain":["St38 dCo","St38 LCo","St41 dCo","St41 LCo"],"range":["black","white","black","white"]},"legend":{"title":null,"legendX":23,"legendY":30}},
"stroke":{"field":"s","type":"nominal","scale":{"domain":["St38 dCo","St38 LCo","St41 dCo","St41 LCo"],"range":["black","black","black","black"]},"legend":{"title":null,"legendX":23,"legendY":30}}}},
{"title":{"text":"(q)","dx":-22},"width":105,"height":67,"transform":[{"filter":"datum.p=='q'"}],"mark":{"type":"point","filled":true,"strokeWidth":0.7,"size":22,"opacity":1},
"encoding":{"x":{"field":"x","type":"quantitative","title":null,"scale":{"domain":[0,2000],"nice":false},"axis":{"orient":"top","values":[0,500,1000,1500,2000]}},
"y":{"field":"y","type":"quantitative","title":null,"scale":{"domain":[0,100],"nice":false,"reverse":true},"axis":{"values":[0,20,40,60,80,100]}},
"shape":{"field":"s","type":"nominal","scale":{"domain":["St61 dCo","St61 LCo","St66 dCo","St66 LCo"],"range":["circle","circle","triangle-up","triangle-up"]},"legend":{"title":null,"legendX":57,"legendY":31}},
"fill":{"field":"s","type":"nominal","scale":{"domain":["St61 dCo","St61 LCo","St66 dCo","St66 LCo"],"range":["black","white","black","white"]},"legend":{"title":null,"legendX":57,"legendY":31}},
"stroke":{"field":"s","type":"nominal","scale":{"domain":["St61 dCo","St61 LCo","St66 dCo","St66 LCo"],"range":["black","black","black","black"]},"legend":{"title":null,"legendX":57,"legendY":31}}}},
{"title":{"text":"(j)","dx":-33},"width":78,"height":67,"transform":[{"filter":"datum.p=='j'"}],"mark":{"type":"point","filled":true,"strokeWidth":0.7,"size":22,"opacity":1},
"encoding":{"x":{"field":"x","type":"quantitative","title":null,"scale":{"domain":[0,400],"nice":false},"axis":{"orient":"top","values":[0,200,400]}},
"y":{"field":"y","type":"quantitative","title":null,"scale":{"domain":[0,2500],"nice":false,"reverse":true},"axis":{"values":[0,500,1000,1500,2000,2500]}},
"shape":{"field":"s","type":"nominal","scale":{"domain":["St43 dCo","St43 LCo"],"range":["circle","circle"]},"legend":{"title":null,"legendX":27,"legendY":45}},
"fill":{"field":"s","type":"nominal","scale":{"domain":["St43 dCo","St43 LCo"],"range":["black","white"]},"legend":{"title":null,"legendX":27,"legendY":45}},
"stroke":{"field":"s","type":"nominal","scale":{"domain":["St43 dCo","St43 LCo"],"range":["black","black"]},"legend":{"title":null,"legendX":27,"legendY":45}}}},
{"title":{"text":"(k)","dx":-15},"width":78,"height":67,"transform":[{"filter":"datum.p=='k'"}],"mark":{"type":"point","filled":true,"strokeWidth":0.7,"size":22,"opacity":1},
"encoding":{"x":{"field":"x","type":"quantitative","title":null,"scale":{"domain":[0,600],"nice":false},"axis":{"orient":"top","values":[0,200,400,600]}},
"y":{"field":"y","type":"quantitative","title":null,"scale":{"domain":[0,500],"nice":false,"reverse":true},"axis":{"values":[0,100,200,300,400,500]}},
"shape":{"field":"s","type":"nominal","scale":{"domain":["St46 dCo","St46 LCo"],"range":["circle","circle"]},"legend":{"title":null,"legendX":18,"legendY":46}},
"fill":{"field":"s","type":"nominal","scale":{"domain":["St46 dCo","St46 LCo"],"range":["black","white"]},"legend":{"title":null,"legendX":18,"legendY":46}},
"stroke":{"field":"s","type":"nominal","scale":{"domain":["St46 dCo","St46 LCo"],"range":["black","black"]},"legend":{"title":null,"legendX":18,"legendY":46}}}},
{"title":{"text":"(l)","dx":-2,"offset":4},"width":100,"height":67,"transform":[{"filter":"datum.p=='l'"}],"mark":{"type":"point","filled":true,"strokeWidth":0.7,"size":22,"opacity":1},
"encoding":{"x":{"field":"x","type":"quantitative","title":null,"scale":{"domain":[0,600],"nice":false,"range":[0,78]},"axis":{"orient":"top","values":[0,200,400,600]}},
"y":{"field":"y","type":"quantitative","title":null,"scale":{"domain":[0,4000],"nice":false,"reverse":true},"axis":{"values":[0,1000,2000,3000,4000]}},
"shape":{"field":"s","type":"nominal","scale":{"domain":["St48 dCo","St48 LCo"],"range":["circle","circle"]},"legend":{"title":null,"legendX":23,"legendY":46}},
"fill":{"field":"s","type":"nominal","scale":{"domain":["St48 dCo","St48 LCo"],"range":["black","white"]},"legend":{"title":null,"legendX":23,"legendY":46}},
"stroke":{"field":"s","type":"nominal","scale":{"domain":["St48 dCo","St48 LCo"],"range":["black","black"]},"legend":{"title":null,"legendX":23,"legendY":46}}}},
{"title":{"text":"(r)","dx":-22},"width":105,"height":67,"transform":[{"filter":"datum.p=='r'"}],"mark":{"type":"point","filled":true,"strokeWidth":0.7,"size":22,"opacity":1},
"encoding":{"x":{"field":"x","type":"quantitative","title":null,"scale":{"domain":[0,300],"nice":false},"axis":{"orient":"top","values":[0,100,200,300]}},
"y":{"field":"y","type":"quantitative","title":null,"scale":{"domain":[0,3000],"nice":false,"reverse":true},"axis":{"values":[0,500,1000,1500,2000,2500,3000]}},
"shape":{"field":"s","type":"nominal","scale":{"domain":["dCo","LCo"],"range":["circle","circle"]},"legend":{"title":null,"legendX":73,"legendY":45}},
"fill":{"field":"s","type":"nominal","scale":{"domain":["dCo","LCo"],"range":["black","white"]},"legend":{"title":null,"legendX":73,"legendY":45}},
"stroke":{"field":"s","type":"nominal","scale":{"domain":["dCo","LCo"],"range":["black","black"]},"legend":{"title":null,"legendX":73,"legendY":45}}}},
{"title":{"text":"(m)","dx":-33},"width":78,"height":67,"transform":[{"filter":"datum.p=='m'"}],"mark":{"type":"point","filled":true,"strokeWidth":0.7,"size":22,"opacity":1},
"encoding":{"x":{"field":"x","type":"quantitative","title":null,"scale":{"domain":[0,600],"nice":false},"axis":{"orient":"top","values":[0,200,400,600]}},
"y":{"field":"y","type":"quantitative","title":null,"scale":{"domain":[0,4000],"nice":false,"reverse":true},"axis":{"values":[0,1000,2000,3000,4000]}},
"shape":{"field":"s","type":"nominal","scale":{"domain":["St51 dCo","St51 LCo","St52 dCo","St52 LCo"],"range":["circle","circle","triangle-up","triangle-up"]},"legend":{"title":null,"legendX":30,"legendY":30}},
"fill":{"field":"s","type":"nominal","scale":{"domain":["St51 dCo","St51 LCo","St52 dCo","St52 LCo"],"range":["black","white","black","white"]},"legend":{"title":null,"legendX":30,"legendY":30}},
"stroke":{"field":"s","type":"nominal","scale":{"domain":["St51 dCo","St51 LCo","St52 dCo","St52 LCo"],"range":["black","black","black","black"]},"legend":{"title":null,"legendX":30,"legendY":30}}}},
{"title":{"text":"(n)","dx":-15},"width":78,"height":67,"transform":[{"filter":"datum.p=='n'"}],"mark":{"type":"point","filled":true,"strokeWidth":0.7,"size":22,"opacity":1},
"encoding":{"x":{"field":"x","type":"quantitative","title":null,"scale":{"domain":[0,400],"nice":false},"axis":{"orient":"top","values":[0,200,400]}},
"y":{"field":"y","type":"quantitative","title":null,"scale":{"domain":[0,80],"nice":false,"reverse":true},"axis":{"values":[0,20,40,60,80]}},
"shape":{"field":"s","type":"nominal","scale":{"domain":["St53 dCo","St53 LCo","St54 dCo","St54 LCo"],"range":["circle","circle","triangle-up","triangle-up"]},"legend":{"title":null,"legendX":27,"legendY":30}},
"fill":{"field":"s","type":"nominal","scale":{"domain":["St53 dCo","St53 LCo","St54 dCo","St54 LCo"],"range":["black","white","black","white"]},"legend":{"title":null,"legendX":27,"legendY":30}},
"stroke":{"field":"s","type":"nominal","scale":{"domain":["St53 dCo","St53 LCo","St54 dCo","St54 LCo"],"range":["black","black","black","black"]},"legend":{"title":null,"legendX":27,"legendY":30}}}},
{"title":{"text":"(o)","dx":-2,"offset":4},"width":100,"height":67,"transform":[{"filter":"datum.p=='o'"}],"mark":{"type":"point","filled":true,"strokeWidth":0.7,"size":22,"opacity":1},
"encoding":{"x":{"field":"x","type":"quantitative","title":null,"scale":{"domain":[0,600],"nice":false,"range":[0,78]},"axis":{"orient":"top","values":[0,200,400,600]}},
"y":{"field":"y","type":"quantitative","title":null,"scale":{"domain":[0,2500],"nice":false,"reverse":true},"axis":{"values":[0,500,1000,1500,2000,2500]}},
"shape":{"field":"s","type":"nominal","scale":{"domain":["St57 dCo","St57 LCo"],"range":["circle","circle"]},"legend":{"title":null,"legendX":28,"legendY":42}},
"fill":{"field":"s","type":"nominal","scale":{"domain":["St57 dCo","St57 LCo"],"range":["black","white"]},"legend":{"title":null,"legendX":28,"legendY":42}},
"stroke":{"field":"s","type":"nominal","scale":{"domain":["St57 dCo","St57 LCo"],"range":["black","black"]},"legend":{"title":null,"legendX":28,"legendY":42}}}}
]
}
